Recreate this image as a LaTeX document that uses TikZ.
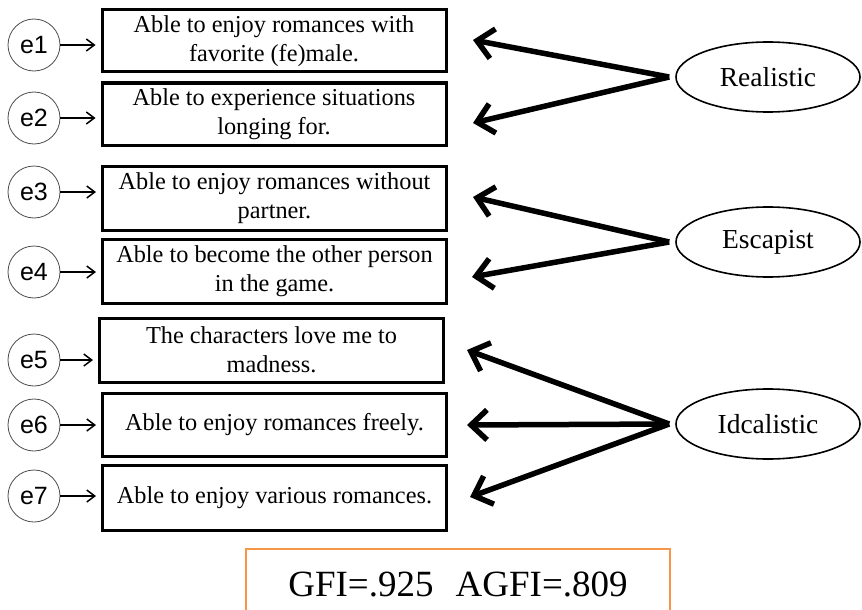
\documentclass[tikz,border=0pt]{standalone}
\usepackage{fontspec}
\setmainfont{Liberation Serif}
\setsansfont{Liberation Sans}
\usetikzlibrary{arrows.meta,shapes.geometric}
\definecolor{gfiorange}{RGB}{247,150,70}
\begin{document}
\begin{tikzpicture}[x=1pt,y=-1pt,
  item/.style={draw,line width=3pt,inner sep=0pt,minimum width=344pt,align=center,
    font=\fontsize{24.3}{29}\selectfont},
  err/.style={draw=black!70,line width=0.8pt,circle,minimum size=52pt,inner sep=0pt,
    font=\sffamily\fontsize{25}{28}\selectfont},
  latent/.style={draw,line width=1.6pt,ellipse,minimum width=184pt,minimum height=70pt,
    inner sep=0pt,font=\fontsize{27.5}{30}\selectfont},
  small/.style={line width=1.5pt,-{Straight Barb[length=8pt,width=12pt,line width=1.5pt]}},
  load/.style={line width=5.5pt,-{Straight Barb[length=16pt,width=30pt,line width=5.5pt]}},
  gfi/.style={draw=gfiorange,line width=2pt,inner sep=0pt,minimum width=424pt,minimum height=70pt,
    font=\fontsize{37}{40}\selectfont}
]
\useasboundingbox (0,0) rectangle (862,610);
% boxes
\node[item,minimum height=62pt] (b1) at (274,41) {Able to enjoy romances with\\favorite (fe)male.};
\node[item,minimum height=62pt] (b2) at (274,114) {Able to experience situations\\longing for.};
\node[item,minimum height=64pt] (b3) at (274.5,198) {Able to enjoy romances without\\partner.};
\node[item,minimum height=64pt] (b4) at (274.5,271) {Able to become the other person\\in the game.};
\node[item,minimum height=64pt] (b5) at (271.5,350) {The characters love me to\\madness.};
\node[item,minimum height=63pt] (b6) at (274.5,424.5) {Able to enjoy romances freely.};
\node[item,minimum height=65pt] (b7) at (274.5,497.5) {Able to enjoy various romances.};
% error terms
\node[err] (e1) at (34,45) {e1};
\node[err] (e2) at (34,118) {e2};
\node[err] (e3) at (34,192) {e3};
\node[err] (e4) at (34,272) {e4};
\node[err] (e5) at (34,360) {e5};
\node[err] (e6) at (34,425) {e6};
\node[err] (e7) at (34,496) {e7};
\foreach \i in {1,...,7}{
  \draw[small] (e\i.east) -- ([xshift=-5pt]e\i.east -| b\i.west);
}
% latent factors
\node[latent] (r) at (768,77) {Realistic};
\node[latent] (s) at (768,242) {Escapist};
\node[latent] (d) at (768,424) {Idcalistic};
% arrow tips
\coordinate (t1) at (473,40);
\coordinate (t2) at (473,123);
\coordinate (t3) at (473,197);
\coordinate (t4) at (472,277);
\coordinate (t5) at (467,350);
\coordinate (t6) at (467,425);
\coordinate (t7) at (470,497);
\draw[load] ([xshift=-6pt]r.west) -- (t1);
\draw[load] ([xshift=-6pt]r.west) -- (t2);
\draw[load] ([xshift=-6pt]s.west) -- (t3);
\draw[load] ([xshift=-6pt]s.west) -- (t4);
\draw[load] ([xshift=-6pt]d.west) -- (t5);
\draw[load] ([xshift=-6pt]d.west) -- (t6);
\draw[load] ([xshift=-6pt]d.west) -- (t7);
% fit indices
\node[gfi] (g) at (458,584) {GFI=.925\hspace{0.6em}AGFI=.809};
\end{tikzpicture}
\end{document}
